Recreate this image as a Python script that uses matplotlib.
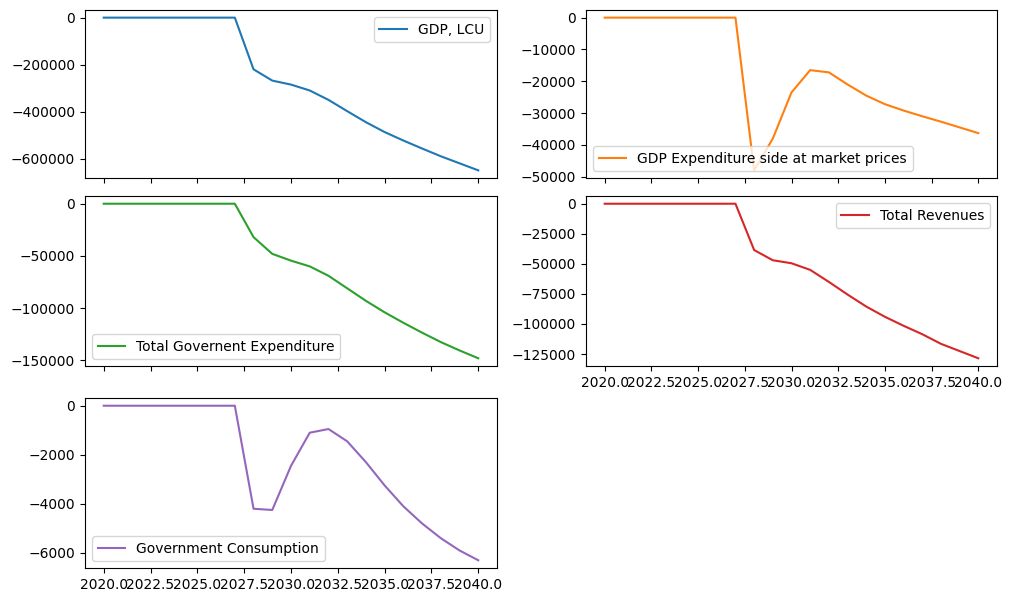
import matplotlib
matplotlib.use("Agg")
import matplotlib.pyplot as plt

years = list(range(2020, 2041))
z = [0]*8
gdp = z + [-220000,-268000,-285000,-310000,-350000,-398000,-445000,-487000,-523000,-557000,-590000,-620000,-650000]
gdp_exp = z + [-48000,-38000,-23500,-16500,-17200,-21000,-24500,-27200,-29200,-31000,-32700,-34500,-36300]
gov_exp = z + [-32000,-48000,-54500,-60000,-69000,-81000,-93000,-104000,-114000,-123500,-132500,-140500,-148000]
revenues = z + [-38500,-47000,-49500,-55000,-65000,-75500,-85500,-94000,-101500,-108500,-116500,-122500,-128500]
gov_cons = z + [-4200,-4250,-2450,-1100,-950,-1450,-2300,-3250,-4100,-4800,-5400,-5900,-6300]

series = [("GDP, LCU", gdp), ("GDP Expenditure side at market prices", gdp_exp),
          ("Total Governent Expenditure", gov_exp), ("Total Revenues", revenues),
          ("Government Consumption", gov_cons)]
colors = ["#1f77b4", "#ff7f0e", "#2ca02c", "#d62728", "#9467bd"]

W, H = 1011, 603
fig, axes = plt.subplots(3, 2, sharex=True, figsize=(W/100, H/100), dpi=100)
pos = {(0,0):(85,10,497,178),(0,1):(586,10,997,178),(1,0):(85,196,497,366),
       (1,1):(586,196,997,366),(2,0):(85,398,497,568)}
for i, ((name, vals), c) in enumerate(zip(series, colors)):
    r, col = divmod(i, 2)
    ax = axes[r, col]
    ax.plot(years, vals, color=c, label=name)
    ax.legend(loc="best")
    x0, y0, x1, y1 = pos[(r, col)]
    ax.set_position([x0/W, 1-y1/H, (x1-x0)/W, (y1-y0)/H])
axes[2,1].set_visible(False)
for ax in [axes[0,0], axes[0,1], axes[1,0]]:
    ax.tick_params(labelbottom=False)
axes[1,1].tick_params(labelbottom=True)
axes[2,0].tick_params(labelbottom=True)
fig.savefig("out.png", dpi=100)
